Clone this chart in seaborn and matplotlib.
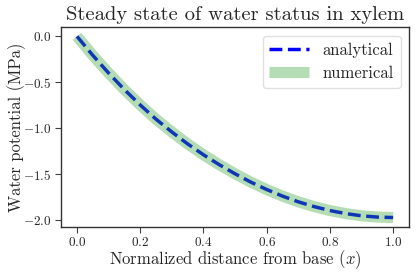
import numpy as np
import pandas as pd
import matplotlib
matplotlib.use("Agg")
import matplotlib.pyplot as plt
import seaborn as sns

x_vals = [0.0, 0.05, 0.1, 0.15, 0.2, 0.25, 0.3, 0.35, 0.4, 0.45, 0.5,
          0.55, 0.6, 0.65, 0.7, 0.75, 0.8, 0.85, 0.9, 0.95, 1.0]
psi_vals = [0.0, -0.206, -0.399, -0.579, -0.746, -0.901, -1.040, -1.170, -1.288,
            -1.396, -1.495, -1.586, -1.666, -1.738, -1.800, -1.852, -1.895,
            -1.928, -1.952, -1.966, -1.971]

sns.set_style("ticks")
plt.rcParams["font.family"] = ["cmr10", "DejaVu Serif"]
plt.rcParams["mathtext.fontset"] = "cm"
plt.rcParams["axes.formatter.use_mathtext"] = True
plt.rcParams["axes.unicode_minus"] = True

df = pd.DataFrame({"x": x_vals, "psi": psi_vals})

fig = plt.figure(figsize=(4.16, 2.73), dpi=100)
ax = fig.add_axes([0.147, 0.170, 0.836, 0.730])

sns.lineplot(data=df, x="x", y="psi", ax=ax, color="blue", lw=2.5,
             linestyle="--", label="analytical", dash_capstyle="butt")
sns.lineplot(data=df, x="x", y="psi", ax=ax, color="tab:green", lw=8,
             alpha=0.35, label="numerical", solid_capstyle="butt")

ax.set_title("Steady state of water status in xylem", fontsize=14.8, pad=5)
ax.set_xlabel("Normalized distance from base ($x$)", fontsize=12, labelpad=-1)
ax.set_ylabel("Water potential (MPa)", fontsize=12, labelpad=-2)
ax.tick_params(labelsize=9.5, direction="out", length=4, color="0.25", pad=3)
ax.set_xticks([0.0, 0.2, 0.4, 0.6, 0.8, 1.0])
ax.set_yticks([0.0, -0.5, -1.0, -1.5, -2.0])
for s in ax.spines.values():
    s.set_color("0.2")
    s.set_linewidth(1.0)
leg = ax.legend(loc="upper right", fontsize=12, frameon=True, handlelength=2.4)
leg.get_frame().set_edgecolor("0.85")
for h in leg.get_lines():
    h.set_solid_capstyle("butt")

fig.savefig("out.png", dpi=100)
